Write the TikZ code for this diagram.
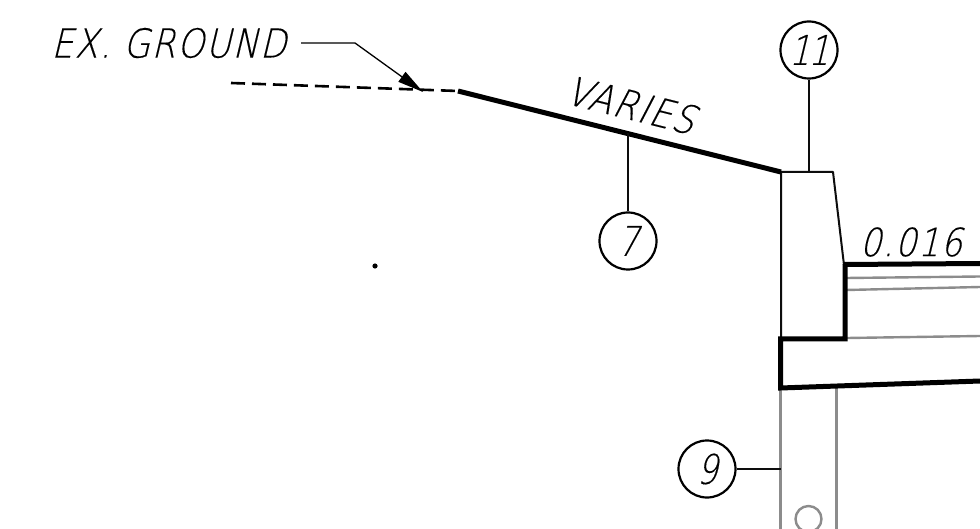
\documentclass[tikz,border=0pt]{standalone}
\usepackage{fontspec}
\usetikzlibrary{arrows.meta}
\newfontfamily\cadfont[FakeSlant=0.24,FakeStretch=0.86,LetterSpace=4,FakeBold=0.25]{DejaVu Sans ExtraLight}
\newfontfamily\cadnum[FakeSlant=0.24,FakeStretch=0.8,LetterSpace=-4,FakeBold=0.25]{DejaVu Sans ExtraLight}
\tikzset{
  thin line/.style={line width=2pt,black!95},
  thick line/.style={line width=5pt,black,line join=miter},
  grey line/.style={line width=2.4pt,black!45},
  balloon/.style={circle,draw,line width=2.2pt,minimum size=57pt,inner sep=0pt,font=\cadnum\fontsize{41}{41}\selectfont},
  cadtext/.style={inner sep=0pt,font=\cadfont\fontsize{40}{40}\selectfont},
}
\begin{document}
\begin{tikzpicture}[x=1pt,y=-1pt]
\useasboundingbox[fill=white] (0,0) rectangle (980,529);
% free coordinates
\coordinate (dashA) at (231,83);
\coordinate (slopeA) at (458,91);
\coordinate (slopeB) at (781,172);
\coordinate (lead0) at (301,43);
\coordinate (lead1) at (355,43);
\coordinate (lead2) at (423,92);
\coordinate (sevenTop) at (628,133);
\coordinate (elevenBot) at (809,172);
\coordinate (nineEnd) at (781,469);
% grey
\draw[grey line] (846,278) -- (980,276.5);
\draw[grey line] (846,290) -- (980,287);
\draw[grey line] (847,338) -- (980,336);
\draw[grey line] (780.5,388) -- (780.5,529);
\draw[grey line] (836.5,388) -- (836.5,529);
\node[circle,draw,grey line,minimum size=26pt,inner sep=0pt] (bolt) at (808.5,519) {};
% curb
\draw[thin line,line join=round] (781,338) -- (slopeB) -- (833,172) -- (844,265);
\draw[thick line] (844,264.5) -- (980,263.5);
\draw[thick line] (845,264) -- (845,339) -- (780.5,339) -- (780.5,388) -- (980,381);
% ground
\draw[line width=2.6pt,dash pattern=on 14pt off 7pt] (dashA) -- (slopeA);
\draw[line width=5pt] (slopeA) -- (slopeB);
\draw[line width=1.3pt,-{Triangle[length=26pt,width=12pt]}] (lead0) -- (lead1) -- (lead2);
% balloons
\node[balloon] (n11) at (809,50) {11};
\node[balloon] (n7) at (628,241) {7};
\node[balloon] (n9) at (707,469) {9};
\draw[thin line] (n11) -- (elevenBot);
\draw[thin line] (n7) -- (sevenTop);
\draw[thin line] (n9) -- (nineEnd);
% text
\node[cadtext,anchor=west] (ground) at (51,43) {EX. GROUND};
\node[cadtext,rotate=-14] (varies) at (631,105) {VARIES};
\node[cadtext,font=\cadfont\fontsize{39}{39}\selectfont] (slope) at (911,242) {0.016};
\fill (375,266) circle (2.6pt);
\end{tikzpicture}
\end{document}
